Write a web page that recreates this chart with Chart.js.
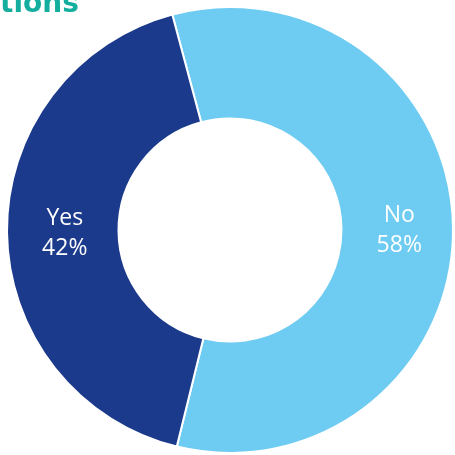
<!DOCTYPE html>
<html>
<head>
<meta charset="utf-8">
<script src="https://cdn.jsdelivr.net/npm/chart.js@4"></script>
<style>
  html, body { margin: 0; padding: 0; background: #ffffff; width: 455px; height: 455px; overflow: hidden; }
  #wrap { position: relative; width: 455px; height: 455px; }
  #title { position: absolute; left: 0; top: -11px; font-family: "DejaVu Sans", sans-serif; font-weight: bold; font-size: 28px; line-height: 28px; color: #13AE9E; white-space: nowrap; z-index: 2; }
  canvas { position: absolute; left: 0; top: 0; }
</style>
</head>
<body>
<div id="wrap">
  <div id="title">tions</div>
  <canvas id="c" width="455" height="455"></canvas>
</div>
<script>
const categories = ["No", "Yes"];
const values = [58, 42];
const valueLabels = ["58%", "42%"];
const colors = ["#6ECBF2", "#1C3A8B"];

const labelPlugin = {
  id: 'sliceLabels',
  afterDatasetsDraw(chart) {
    const ctx = chart.ctx;
    const meta = chart.getDatasetMeta(0);
    ctx.save();
    ctx.fillStyle = '#ffffff';
    ctx.font = '23px "Open Sans", sans-serif';
    ctx.textAlign = 'center';
    ctx.textBaseline = 'middle';
    meta.data.forEach((arc, i) => {
      const p = arc.tooltipPosition();
      ctx.fillText(categories[i], p.x + 2, p.y - 13);
      ctx.fillText(valueLabels[i], p.x + 2, p.y + 17);
    });
    ctx.restore();
  }
};

new Chart(document.getElementById('c'), {
  type: 'doughnut',
  data: {
    labels: categories,
    datasets: [{
      data: values,
      backgroundColor: colors,
      borderColor: '#ffffff',
      borderWidth: 2
    }]
  },
  options: {
    responsive: false,
    animation: false,
    cutout: '50%',
    rotation: -15,
    layout: { padding: { left: 6, right: 1, top: 6, bottom: 1 } },
    plugins: {
      legend: { display: false },
      tooltip: { enabled: false },
      title: { display: false }
    }
  },
  plugins: [labelPlugin]
});
</script>
</body>
</html>
